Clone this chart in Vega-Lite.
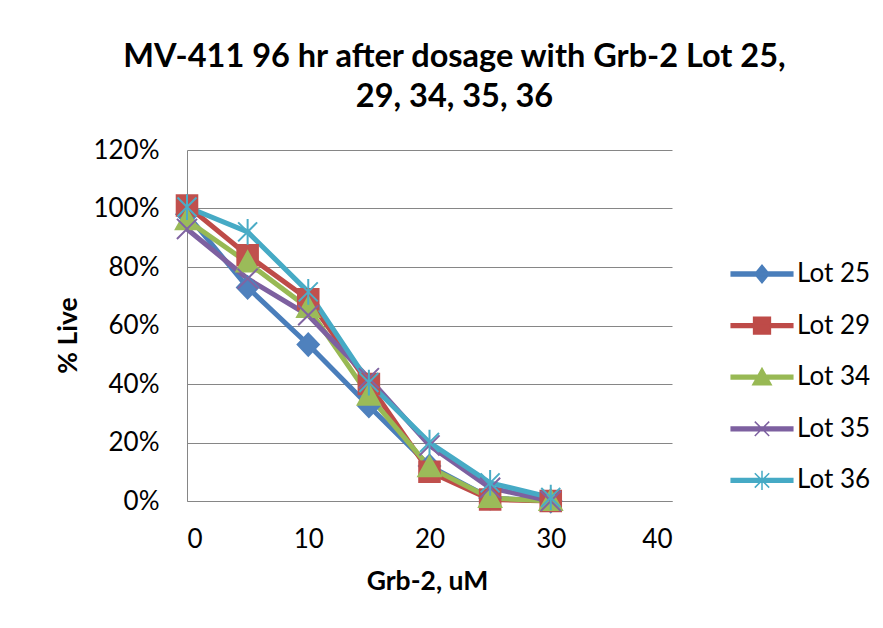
{
  "$schema": "https://vega.github.io/schema/vega-lite/v6.json",
  "width": 485,
  "height": 351,
  "autosize": "none",
  "padding": {"left": 187, "top": 150, "right": 211, "bottom": 127},
  "background": "white",
  "config": {
    "font": "Lato",
    "view": {"stroke": null},
    "axis": {"labelFont": "Lato", "titleFont": "Lato", "labelColor": "#000000", "titleColor": "#000000"}
  },
  "title": {
    "text": ["MV-411 96 hr after dosage with Grb-2 Lot 25,", "29, 34, 35, 36"],
    "font": "Lato",
    "fontSize": 32.5,
    "fontWeight": "bold",
    "color": "#000000",
    "lineHeight": 40,
    "anchor": "middle",
    "frame": "group",
    "dx": 25,
    "offset": 24
  },
  "data": {
    "values": [
      {"lot": "Lot 25", "conc": 0, "live": 0.98},
      {"lot": "Lot 25", "conc": 5, "live": 0.73},
      {"lot": "Lot 25", "conc": 10, "live": 0.535},
      {"lot": "Lot 25", "conc": 15, "live": 0.325},
      {"lot": "Lot 25", "conc": 20, "live": 0.12},
      {"lot": "Lot 25", "conc": 25, "live": 0.01},
      {"lot": "Lot 25", "conc": 30, "live": 0.0},
      {"lot": "Lot 29", "conc": 0, "live": 1.01},
      {"lot": "Lot 29", "conc": 5, "live": 0.84},
      {"lot": "Lot 29", "conc": 10, "live": 0.69},
      {"lot": "Lot 29", "conc": 15, "live": 0.40},
      {"lot": "Lot 29", "conc": 20, "live": 0.10},
      {"lot": "Lot 29", "conc": 25, "live": 0.005},
      {"lot": "Lot 29", "conc": 30, "live": 0.0},
      {"lot": "Lot 34", "conc": 0, "live": 0.96},
      {"lot": "Lot 34", "conc": 5, "live": 0.815},
      {"lot": "Lot 34", "conc": 10, "live": 0.66},
      {"lot": "Lot 34", "conc": 15, "live": 0.36},
      {"lot": "Lot 34", "conc": 20, "live": 0.115},
      {"lot": "Lot 34", "conc": 25, "live": 0.01},
      {"lot": "Lot 34", "conc": 30, "live": 0.0},
      {"lot": "Lot 35", "conc": 0, "live": 0.93},
      {"lot": "Lot 35", "conc": 5, "live": 0.76},
      {"lot": "Lot 35", "conc": 10, "live": 0.635},
      {"lot": "Lot 35", "conc": 15, "live": 0.42},
      {"lot": "Lot 35", "conc": 20, "live": 0.19},
      {"lot": "Lot 35", "conc": 25, "live": 0.045},
      {"lot": "Lot 35", "conc": 30, "live": 0.0},
      {"lot": "Lot 36", "conc": 0, "live": 1.005},
      {"lot": "Lot 36", "conc": 5, "live": 0.92},
      {"lot": "Lot 36", "conc": 10, "live": 0.715},
      {"lot": "Lot 36", "conc": 15, "live": 0.405},
      {"lot": "Lot 36", "conc": 20, "live": 0.20},
      {"lot": "Lot 36", "conc": 25, "live": 0.062},
      {"lot": "Lot 36", "conc": 30, "live": 0.012}
    ]
  },
  "encoding": {
    "x": {
      "field": "conc",
      "type": "quantitative",
      "scale": {"domain": [0, 40], "nice": false, "zero": false},
      "axis": {
        "title": "Grb-2, uM",
        "values": [0, 10, 20, 30, 40],
        "grid": false,
        "ticks": false,
        "domain": true,
        "domainColor": "#868686",
        "domainWidth": 1,
        "labelFontSize": 26,
        "labelPadding": 25,
        "labelBaseline": "top",
        "titleFontSize": 26.5,
        "titleFontWeight": "bold",
        "titleX": 240,
        "titleY": 80,
        "titleBaseline": "middle",
        "titleAlign": "center"
      }
    },
    "y": {
      "field": "live",
      "type": "quantitative",
      "scale": {"domain": [0, 1.2], "nice": false, "zero": true},
      "axis": {
        "title": "% Live",
        "format": ".0%",
        "values": [0, 0.2, 0.4, 0.6, 0.8, 1.0, 1.2],
        "grid": true,
        "gridColor": "#868686",
        "gridWidth": 1,
        "ticks": false,
        "domain": true,
        "domainColor": "#868686",
        "domainWidth": 1,
        "labelFontSize": 26,
        "labelPadding": 28,
        "labelBaseline": "middle",
        "titleFontSize": 26.5,
        "titleFontWeight": "bold",
        "titleX": -119,
        "titleY": 185,
        "titleBaseline": "middle",
        "titleAlign": "center",
        "titleAngle": -90
      }
    }
  },
  "layer": [
    {
      "mark": {"type": "line", "strokeWidth": 5, "strokeJoin": "round", "strokeCap": "round"},
      "encoding": {
        "color": {
          "field": "lot",
          "type": "nominal",
          "scale": {
            "domain": ["Lot 25", "Lot 29", "Lot 34", "Lot 35", "Lot 36"],
            "range": ["#4A7EBB", "#BE4B48", "#98B954", "#7D60A0", "#46AAC5"]
          },
          "legend": {
            "title": null,
            "orient": "none",
            "legendX": 562,
            "legendY": 111,
            "padding": 0,
            "labelFont": "Lato",
            "labelFontSize": 26,
            "labelColor": "#000000",
            "symbolSize": 256,
            "symbolStrokeWidth": 1.5,
            "labelOffset": 22,
            "rowPadding": 25.6,
            "encode": {
              "symbols": {
                "update": {
                  "shape": {"signal": "datum.value == 'Lot 25' ? 'M-3.85,-0.24H3.85V0.24H-3.85Z M0,-1.1L0.9,0L0,1.1L-0.9,0Z' : datum.value == 'Lot 29' ? 'M-3.85,-0.24H3.85V0.24H-3.85Z M-1.05,-1.05H1.05V1.05H-1.05Z' : datum.value == 'Lot 34' ? 'M-3.85,-0.24H3.85V0.24H-3.85Z M0,-1.1L1.15,0.95H-1.15Z' : datum.value == 'Lot 35' ? 'M-3.85,-0.24H3.85V0.24H-3.85Z M-0.9,-0.9L0.9,0.9M-0.9,0.9L0.9,-0.9' : 'M-3.85,-0.24H3.85V0.24H-3.85Z M-0.9,-0.9L0.9,0.9M-0.9,0.9L0.9,-0.9M0,-1.2V1.2'"},
                  "fill": {"signal": "scale('color', datum.value)"},
                  "stroke": {"signal": "scale('color', datum.value)"},
                  "strokeWidth": {"value": 1.5},
                  "opacity": {"value": 1}
                }
              }
            }
          }
        }
      }
    },
    {
      "mark": {"type": "point", "filled": false, "opacity": 1, "strokeWidth": 2},
      "encoding": {
        "shape": {
          "field": "lot",
          "type": "nominal",
          "scale": {
            "range": [
              "M0,-1L0.95,0L0,1L-0.95,0Z",
              "M-0.92,-0.92H0.92V0.92H-0.92Z",
              "M0,-1L1,0.8H-1Z",
              "M-0.9,-0.9L0.9,0.9M-0.9,0.9L0.9,-0.9",
              "M-0.85,-0.85L0.85,0.85M-0.85,0.85L0.85,-0.85M0,-1.15V1.15"
            ]
          },
          "legend": null
        },
        "fill": {"field": "lot", "type": "nominal", "scale": {"range": ["#4F81BD", "#C0504D", "#9BBB59", "#8064A2", "#4BACC6"]}, "legend": null},
        "stroke": {"field": "lot", "type": "nominal", "scale": {"range": ["#4F81BD", "#C0504D", "#9BBB59", "#8064A2", "#4BACC6"]}, "legend": null},
        "size": {"value": 500}
      }
    }
  ],
  "resolve": {"legend": {"color": "independent", "shape": "independent", "fill": "independent", "stroke": "independent"}}
}
